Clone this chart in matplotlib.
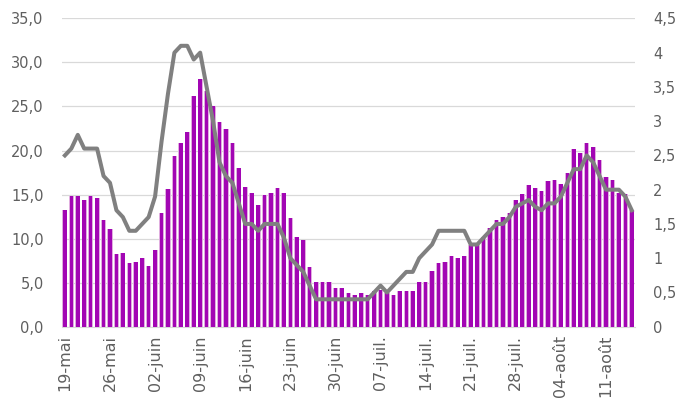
import numpy as np
import matplotlib
matplotlib.use("Agg")
import matplotlib.pyplot as plt

# valeurs journalières du 19-mai au 15-août
bars = [13.3, 14.8, 14.8, 14.4, 14.8, 14.6, 12.1, 11.1, 8.3, 8.4,
        7.2, 7.3, 7.8, 6.9, 8.7, 12.9, 15.6, 19.4, 20.8, 22.1,
        26.2, 28.1, 26.8, 25.1, 23.2, 22.4, 20.8, 18.0, 15.9, 15.2,
        13.8, 14.9, 15.2, 15.8, 15.2, 12.3, 10.2, 9.9, 6.8, 5.1,
        5.1, 5.1, 4.4, 4.4, 3.8, 3.6, 3.8, 3.6, 4.0, 4.2,
        3.8, 3.6, 4.0, 4.0, 4.0, 5.1, 5.1, 6.3, 7.2, 7.4,
        8.0, 7.8, 8.0, 9.3, 9.5, 10.2, 11.2, 12.1, 12.5, 12.9,
        14.4, 15.1, 16.1, 15.8, 15.4, 16.5, 16.6, 16.2, 17.4, 20.2,
        19.7, 20.8, 20.4, 18.9, 17.0, 16.6, 15.2, 15.1, 13.2]

line = [2.5, 2.6, 2.8, 2.6, 2.6, 2.6, 2.2, 2.1, 1.7, 1.6,
        1.4, 1.4, 1.5, 1.6, 1.9, 2.7, 3.4, 4.0, 4.1, 4.1,
        3.9, 4.0, 3.5, 3.0, 2.4, 2.2, 2.1, 1.8, 1.5, 1.5,
        1.4, 1.5, 1.5, 1.5, 1.3, 1.0, 0.9, 0.8, 0.6, 0.4,
        0.4, 0.4, 0.4, 0.4, 0.4, 0.4, 0.4, 0.4, 0.5, 0.6,
        0.5, 0.6, 0.7, 0.8, 0.8, 1.0, 1.1, 1.2, 1.4, 1.4,
        1.4, 1.4, 1.4, 1.2, 1.2, 1.3, 1.4, 1.5, 1.5, 1.6,
        1.75, 1.8, 1.85, 1.75, 1.7, 1.8, 1.8, 1.9, 2.1, 2.3,
        2.3, 2.5, 2.4, 2.2, 2.0, 2.0, 2.0, 1.9, 1.7]

tick_labels = ["19-mai", "26-mai", "02-juin", "09-juin", "16-juin", "23-juin",
               "30-juin", "07-juil.", "14-juil.", "21-juil.", "28-juil.",
               "04-août", "11-août"]

x = np.arange(len(bars))
txt = "#5f5f5f"

fig = plt.figure(figsize=(6.8, 4.09), dpi=100)
ax = fig.add_axes([0.0907, 0.2012, 0.9338 - 0.0907, 0.955 - 0.2012])

# barre claire derrière + barre foncée pour l'effet dégradé
ax.bar(x, bars, width=0.8, color="#e0addf", zorder=2)
ax.bar(x, bars, width=0.56, color="#a206b4", zorder=3)

ax.set_xlim(-0.5, len(bars) - 0.5)
ax.set_ylim(0, 35)
ax.set_yticks(np.arange(0, 36, 5))
ax.set_yticklabels([f"{v:.1f}".replace(".", ",") for v in np.arange(0, 36, 5)])
ax.grid(axis="y", color="#d9d9d9", lw=0.9, zorder=0)
ax.set_axisbelow(True)

ax.set_xticks(np.arange(0, len(bars), 7))
ax.set_xticklabels(tick_labels, rotation=90, va="top", ha="center")

for s in ["top", "right", "left"]:
    ax.spines[s].set_visible(False)
ax.spines["bottom"].set_color("#d9d9d9")
ax.tick_params(axis="both", length=0, colors=txt, labelsize=10.5)
ax.tick_params(axis="x", labelsize=11.5, pad=6)
ax.tick_params(axis="y", pad=13)

ax2 = ax.twinx()
ax2.plot(x, line, color="#808080", lw=2.9, solid_joinstyle="round", zorder=4)
ax2.set_ylim(0, 4.5)
ax2.set_yticks(np.arange(0, 4.6, 0.5))
ax2.set_yticklabels([f"{v:g}".replace(".", ",") for v in np.arange(0, 4.6, 0.5)])
for s in ["top", "right", "left", "bottom"]:
    ax2.spines[s].set_visible(False)
ax2.tick_params(axis="y", length=0, colors=txt, labelsize=10.5, pad=13)

fig.savefig("out.png", dpi=100)
